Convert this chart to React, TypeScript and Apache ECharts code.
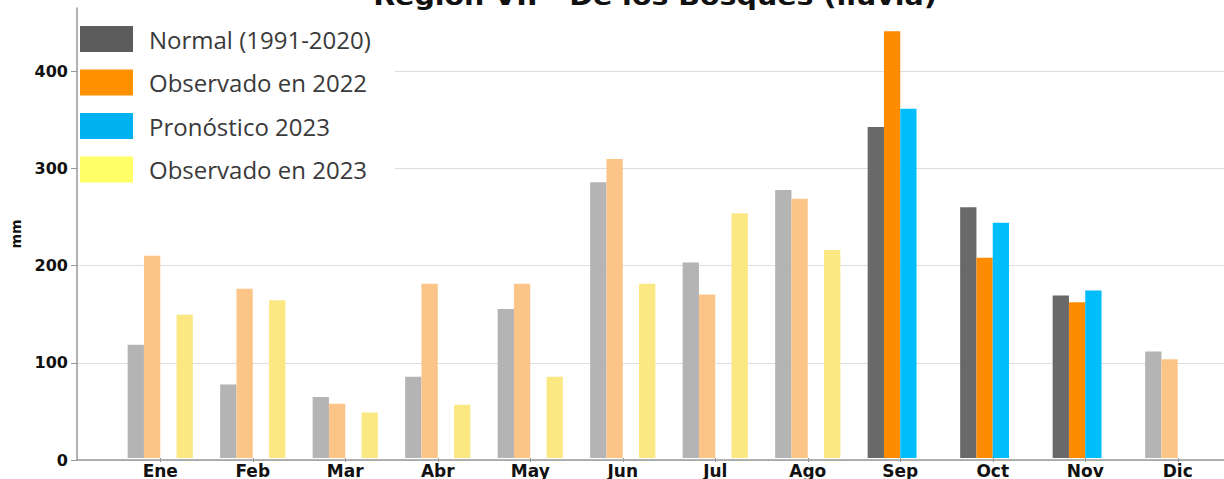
import React, { useEffect, useRef } from "react";
import * as echarts from "echarts";

const months = ["Ene", "Feb", "Mar", "Abr", "May", "Jun", "Jul", "Ago", "Sep", "Oct", "Nov", "Dic"];
const normal = [117, 76, 63, 84, 154, 285, 202, 277, 342, 259, 168, 110];
const obs2022 = [209, 175, 56, 180, 180, 309, 169, 268, 441, 207, 161, 102];
const fcst2023 = [null, null, null, null, null, null, null, null, 361, 243, 173, null];
const obs2023 = [148, 163, 47, 55, 84, 180, 253, 215, null, null, null, null];
const highlighted = ["Sep", "Oct", "Nov"];
const yTicks = [0, 100, 200, 300, 400];

const seriesNames = ["Normal (1991-2020)", "Observado en 2022", "Pronóstico 2023", "Observado en 2023"];
const legendColors = ["#5c5c5c", "#ff9000", "#00b2f0", "#ffff66"];
const solidColors = ["#696969", "#ff8c00", "#00bdfb", "#ffd700"];
const fadedColors = ["#b4b4b4", "#fcc588", "#80def9", "#fbe883"];

export default function App() {
  const ref = useRef<HTMLDivElement>(null);
  useEffect(() => {
    if (!ref.current) return;
    const chart = echarts.init(ref.current, null, { renderer: "svg" });
    const allData = [normal, obs2022, fcst2023, obs2023];
    const series = allData.map((arr, si) => ({
      name: seriesNames[si],
      type: "bar",
      xAxisIndex: 1,
      yAxisIndex: 1,
      barWidth: 16.3,
      barGap: "0%",
      itemStyle: { color: legendColors[si] },
      data: arr.map((v, i) =>
        v === null
          ? null
          : {
              value: v,
              itemStyle: {
                color: highlighted.includes(months[i]) ? solidColors[si] : fadedColors[si],
              },
            }
      ),
    }));
    const labelFont = {
      fontFamily: "DejaVu Sans",
      fontWeight: "bold" as const,
      fontSize: 16,
      color: "#111",
    };
    chart.setOption({
      animation: false,
      backgroundColor: "#fff",
      grid: [
        { left: 77, right: 0, top: 8, bottom: 19 },
        { left: 114, width: 1112, top: 8, bottom: 19 },
      ],
      xAxis: [
        {
          type: "value",
          gridIndex: 0,
          min: 0,
          max: 1,
          axisLine: { show: true, onZero: false, lineStyle: { color: "#999", width: 1.5 } },
          axisTick: { show: false },
          axisLabel: { show: false },
          splitLine: { show: false },
        },
        {
          type: "category",
          gridIndex: 1,
          data: months,
          axisLine: { show: false },
          axisTick: { show: true, alignWithLabel: true, length: 4, lineStyle: { color: "#999" } },
          axisLabel: { ...labelFont, fontSize: 17, margin: 4 },
          splitLine: { show: false },
        },
      ],
      yAxis: [
        {
          type: "value",
          gridIndex: 0,
          min: 0,
          max: 465,
          interval: 100,
          name: "mm",
          nameLocation: "middle",
          nameRotate: 90,
          nameGap: 54,
          nameTextStyle: { fontFamily: "DejaVu Sans", fontWeight: "bold", fontSize: 14, color: "#111" },
          axisLine: { show: true, lineStyle: { color: "#999", width: 1.5 } },
          axisTick: { show: true, length: 6, customValues: yTicks, lineStyle: { color: "#999" } },
          axisLabel: { ...labelFont, margin: 9, customValues: yTicks },
          splitLine: { show: true, lineStyle: { color: "#dedede", width: 1 } },
        },
        {
          type: "value",
          gridIndex: 1,
          min: 0,
          max: 465,
          show: false,
          splitLine: { show: false },
        },
      ],
      legend: {
        left: 78,
        top: 8,
        orient: "vertical",
        backgroundColor: "#fff",
        padding: [18, 24, 3, 2],
        itemWidth: 53,
        itemHeight: 26,
        itemGap: 17.5,
        icon: "rect",
        textStyle: {
          fontFamily: "Open Sans",
          fontSize: 24,
          color: "#3a3a3a",
          padding: [0, 0, 0, 11],
        },
        data: seriesNames.map((n, i) => ({ name: n, itemStyle: { color: legendColors[i] } })),
      },
      graphic: [
        {
          type: "text",
          x: 655,
          y: 9,
          z: 10,
          scaleX: 1.14,
          originX: 0,
          style: {
            text: "Región VII - De los Bosques (lluvia)",
            fontFamily: "DejaVu Sans",
            fontWeight: "bold",
            fontSize: 25,
            fill: "#111",
            textAlign: "center",
            textVerticalAlign: "bottom",
          },
        },
      ],
      series,
    });
    return () => chart.dispose();
  }, []);
  return (
    <div
      ref={ref}
      style={{ position: "fixed", left: 0, top: 0, width: 1224, height: 479, background: "#fff" }}
    />
  );
}
